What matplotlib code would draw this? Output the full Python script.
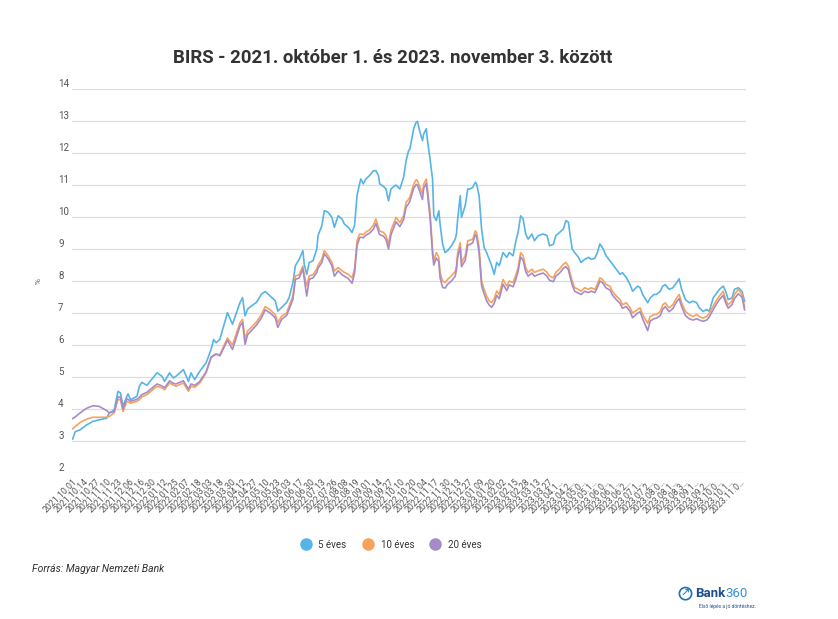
import matplotlib.pyplot as plt
from matplotlib.lines import Line2D

# trading-day positions (0 = 2021.10.01, last = 2023.11.03)
day_idx = [0, 2, 6, 11, 16, 21, 27, 29, 33, 36, 38, 40, 43, 44, 46, 51, 53, 55, 59, 67,
           71, 73, 77, 80, 82, 88, 92, 94, 97, 101, 106, 110, 112, 114, 117, 123, 127, 133, 135, 137,
           139, 142, 146, 150, 153, 157, 161, 163, 166, 170, 172, 175, 177, 180, 183, 184, 186, 188, 191, 194,
           195, 198, 200, 203, 206, 208, 211, 214, 216, 219, 222, 224, 226, 228, 229, 231, 233, 236, 239, 241,
           243, 244, 247, 249, 251, 253, 256, 257, 260, 263, 265, 267, 268, 271, 273, 274, 276, 278, 279, 281,
           282, 284, 286, 287, 289, 291, 292, 294, 296, 298, 301, 304, 305, 306, 308, 309, 312, 314, 316, 318,
           320, 321, 323, 325, 327, 329, 331, 333, 335, 337, 339, 342, 345, 347, 350, 352, 354, 356, 358, 360,
           362, 365, 367, 370, 374, 377, 379, 382, 384, 387, 390, 392, 394, 395, 397, 399, 402, 404, 407, 410,
           412, 415, 417, 419, 421, 424, 427, 429, 432, 435, 437, 440, 443, 445, 449, 451, 453, 457, 459, 462,
           464, 467, 469, 471, 474, 477, 480, 482, 484, 487, 490, 493, 496, 498, 501, 504, 506, 509, 512, 514,
           517, 519, 521, 524, 526, 529, 532, 534]

eves5 = [3.06, 3.29, 3.35, 3.50, 3.61, 3.66, 3.71, 3.87, 3.97, 4.55, 4.50, 4.08, 4.39, 4.47, 4.29, 4.39, 4.71, 4.83, 4.74, 5.13,
         5.02, 4.86, 5.13, 4.97, 5.02, 5.23, 4.86, 5.13, 4.92, 5.18, 5.44, 5.86, 6.17, 6.07, 6.18, 7.01, 6.65, 7.33, 7.48, 6.91,
         7.12, 7.22, 7.33, 7.59, 7.67, 7.53, 7.38, 7.06, 7.17, 7.33, 7.48, 7.95, 8.48, 8.68, 8.95, 8.53, 8.21, 8.58, 8.63, 9.00,
         9.42, 9.73, 10.20, 10.15, 9.99, 9.68, 10.04, 9.94, 9.78, 9.68, 9.52, 9.73, 10.67, 11.04, 11.19, 11.04, 11.19, 11.30, 11.45, 11.45,
         11.30, 11.04, 10.96, 10.88, 10.51, 10.88, 10.98, 11.00, 10.88, 11.24, 11.77, 12.08, 12.13, 12.76, 12.97, 12.99, 12.66, 12.39, 12.60, 12.76,
         12.39, 11.82, 11.19, 10.04, 9.89, 10.20, 9.78, 9.15, 8.89, 8.95, 9.10, 9.31, 9.47, 9.94, 10.67, 9.99, 10.36, 10.88, 10.88, 10.93,
         11.09, 11.04, 10.67, 9.62, 9.05, 8.89, 8.68, 8.48, 8.21, 8.58, 8.48, 8.89, 8.74, 8.89, 8.79, 9.21, 9.52, 10.04, 9.94, 9.47,
         9.31, 9.47, 9.26, 9.42, 9.47, 9.42, 9.10, 9.15, 9.42, 9.52, 9.63, 9.89, 9.84, 9.53, 9.00, 8.89, 8.74, 8.58, 8.68, 8.74,
         8.68, 8.71, 8.89, 9.16, 9.05, 8.79, 8.63, 8.53, 8.37, 8.21, 8.26, 8.11, 7.89, 7.68, 7.84, 7.79, 7.58, 7.32, 7.47, 7.58,
         7.58, 7.68, 7.84, 7.89, 7.74, 7.79, 7.95, 8.07, 7.74, 7.42, 7.32, 7.37, 7.32, 7.16, 7.05, 7.11, 7.05, 7.47, 7.63, 7.74,
         7.84, 7.68, 7.42, 7.47, 7.74, 7.79, 7.68, 7.37]

eves10 = [3.38, 3.45, 3.58, 3.68, 3.74, 3.74, 3.74, 3.76, 3.88, 4.30, 4.28, 3.92, 4.24, 4.22, 4.18, 4.24, 4.29, 4.38, 4.45, 4.71,
          4.66, 4.60, 4.81, 4.75, 4.71, 4.81, 4.55, 4.71, 4.68, 4.81, 5.13, 5.60, 5.66, 5.71, 5.70, 6.22, 6.00, 6.70, 6.80, 6.18,
          6.44, 6.55, 6.72, 6.95, 7.20, 7.10, 6.95, 6.70, 6.90, 7.00, 7.22, 7.53, 8.16, 8.20, 8.47, 8.20, 7.85, 8.16, 8.20, 8.37,
          8.50, 8.68, 8.95, 8.79, 8.58, 8.32, 8.42, 8.32, 8.27, 8.21, 8.10, 8.37, 9.26, 9.47, 9.47, 9.45, 9.53, 9.60, 9.75, 9.94,
          9.68, 9.57, 9.52, 9.42, 9.15, 9.60, 9.88, 9.99, 9.83, 10.04, 10.46, 10.56, 10.62, 11.03, 11.17, 11.14, 10.93, 10.72, 11.03, 11.19,
          10.88, 10.15, 9.00, 8.63, 8.89, 8.74, 8.27, 8.00, 7.95, 8.05, 8.16, 8.30, 8.47, 8.89, 9.20, 8.58, 8.79, 9.26, 9.28, 9.31,
          9.57, 9.52, 9.05, 8.00, 7.74, 7.53, 7.38, 7.33, 7.45, 7.69, 7.58, 8.05, 7.84, 8.00, 7.95, 8.16, 8.42, 8.89, 8.79, 8.42,
          8.27, 8.37, 8.27, 8.32, 8.37, 8.27, 8.16, 8.10, 8.27, 8.38, 8.53, 8.58, 8.47, 8.30, 8.00, 7.79, 7.74, 7.68, 7.79, 7.74,
          7.79, 7.74, 7.90, 8.10, 8.05, 7.89, 7.84, 7.68, 7.53, 7.42, 7.26, 7.32, 7.16, 7.00, 7.11, 7.16, 6.95, 6.68, 6.89, 6.95,
          6.95, 7.05, 7.26, 7.32, 7.16, 7.26, 7.47, 7.58, 7.32, 7.05, 6.95, 6.89, 6.95, 6.89, 6.84, 6.89, 7.00, 7.21, 7.42, 7.53,
          7.68, 7.42, 7.26, 7.37, 7.58, 7.74, 7.58, 7.20]

eves20 = [3.70, 3.75, 3.88, 4.02, 4.10, 4.08, 3.95, 3.88, 3.92, 4.38, 4.36, 4.00, 4.32, 4.30, 4.24, 4.30, 4.36, 4.45, 4.52, 4.78,
          4.72, 4.66, 4.88, 4.80, 4.78, 4.88, 4.62, 4.78, 4.74, 4.86, 5.16, 5.62, 5.68, 5.72, 5.66, 6.15, 5.86, 6.60, 6.70, 6.02,
          6.32, 6.45, 6.62, 6.85, 7.10, 7.00, 6.85, 6.55, 6.80, 6.92, 7.12, 7.42, 8.05, 8.10, 8.38, 8.08, 7.53, 8.05, 8.10, 8.27,
          8.40, 8.58, 8.85, 8.70, 8.48, 8.15, 8.32, 8.20, 8.15, 8.08, 7.93, 8.25, 9.10, 9.35, 9.37, 9.35, 9.43, 9.50, 9.62, 9.80,
          9.55, 9.45, 9.40, 9.30, 9.00, 9.45, 9.75, 9.85, 9.70, 9.92, 10.32, 10.42, 10.50, 10.90, 11.02, 11.00, 10.78, 10.55, 10.90, 11.05,
          10.72, 10.00, 8.85, 8.50, 8.72, 8.60, 8.10, 7.80, 7.78, 7.90, 8.00, 8.15, 8.35, 8.75, 9.05, 8.45, 8.65, 9.12, 9.15, 9.20,
          9.45, 9.40, 8.90, 7.85, 7.60, 7.38, 7.25, 7.18, 7.30, 7.55, 7.45, 7.90, 7.70, 7.88, 7.82, 8.03, 8.30, 8.75, 8.65, 8.30,
          8.15, 8.25, 8.15, 8.20, 8.25, 8.15, 8.02, 7.98, 8.15, 8.25, 8.40, 8.45, 8.35, 8.18, 7.88, 7.68, 7.62, 7.58, 7.68, 7.64,
          7.68, 7.64, 7.80, 8.00, 7.95, 7.78, 7.72, 7.56, 7.42, 7.30, 7.15, 7.20, 7.05, 6.85, 7.00, 7.04, 6.82, 6.45, 6.75, 6.82,
          6.84, 6.92, 7.12, 7.20, 7.04, 7.14, 7.35, 7.45, 7.20, 6.92, 6.82, 6.78, 6.82, 6.78, 6.74, 6.78, 6.88, 7.10, 7.30, 7.42,
          7.55, 7.32, 7.15, 7.26, 7.45, 7.60, 7.50, 7.10]

tick_labels = [
    '2021.10.01', '2021.10.14', '2021.10.27', '2021.11.10', '2021.11.23', '2021.12.06', '2021.12.16', '2021.12.30',
    '2022.01.12', '2022.01.25', '2022.02.07', '2022.02.18', '2022.03.03', '2022.03.18', '2022.03.30', '2022.04.12',
    '2022.04.27', '2022.05.10', '2022.05.23', '2022.06.03', '2022.06.17', '2022.06.30', '2022.07.13', '2022.07.26',
    '2022.08.08', '2022.08.19', '2022.09.01', '2022.09.14', '2022.09.27', '2022.10.10', '2022.10.20', '2022.11.04',
    '2022.11.17', '2022.11.30', '2022.12.13', '2022.12.27', '2023.01.09', '2023.01.20', '2023.02.02', '2023.02.15',
    '2023.02.28', '2023.03.13', '2023.03.27', '2023.04.1…', '2023.04.2…', '2023.05.0…', '2023.05.1…', '2023.06.0…',
    '2023.06.1…', '2023.06.2…', '2023.07.1…', '2023.07.2…', '2023.08.0…', '2023.08.1…', '2023.08.3…', '2023.09.1…',
    '2023.09.2…', '2023.10.0…', '2023.10.1…', '2023.11.0…']
tick_pos = [i * 9 for i in range(len(tick_labels))]

series_names = ['5 éves', '10 éves', '20 éves']
colors = ['#56B4E6', '#F7A35C', '#A78BC8']

plt.rcParams['font.family'] = ['Roboto', 'DejaVu Sans']

fig = plt.figure(figsize=(8.38, 6.19), dpi=100)
ax = fig.add_axes([0.086, 0.236, 0.804, 0.620])

for vals, c in zip([eves5, eves10, eves20], colors):
    ax.plot(day_idx, vals, color=c, lw=1.2, solid_joinstyle='round')

ax.set_ylim(2, 14)
ax.set_xlim(-0.5, 535)
ax.set_yticks(range(2, 15))
ax.grid(axis='y', color='#dddddd', lw=0.9)
ax.set_axisbelow(True)
for s in ax.spines.values():
    s.set_visible(False)

ax.set_xticks(tick_pos)
ax.set_xticklabels(tick_labels, rotation=45, ha='right', rotation_mode='anchor',
                   fontsize=6.3, color='#555555')
ax.tick_params(axis='x', length=0, pad=3)
ax.tick_params(axis='y', length=0, pad=10, labelsize=7, labelcolor='#555555')
for lab in ax.get_yticklabels():
    lab.set_horizontalalignment('left')
    lab.set_verticalalignment('bottom')
ax.set_ylabel('%', fontsize=6, color='#555555', labelpad=12)

fig.text(0.469, 0.907, 'BIRS - 2021. október 1. és 2023. november 3. között',
         ha='center', va='center', fontsize=13.4, fontweight='bold', color='#333333')

handles = [Line2D([], [], ls='none', marker='o', markersize=8, color=c) for c in colors]
fig.legend(handles, series_names, loc='center', bbox_to_anchor=(0.464, 0.12), ncol=3,
           frameon=False, fontsize=7, handletextpad=0.3, columnspacing=1.2,
           labelcolor='#333333')

fig.text(0.038, 0.081, 'Forrás: Magyar Nemzeti Bank', fontsize=7.5, style='italic',
         color='#333333', va='center')

# Bank360 logo
fig.text(0.818, 0.041, '\u2197', fontsize=8, color='#1c6fb8', ha='center', va='center',
         bbox=dict(boxstyle='circle,pad=0.1', fc='white', ec='#1c6fb8', lw=1.2))
fig.text(0.830, 0.041, 'Bank', fontsize=9.5, fontweight='bold', color='#1f4f8f', va='center')
fig.text(0.866, 0.041, '360', fontsize=9.5, color='#3a8fd6', va='center')
fig.text(0.834, 0.020, 'Első lépés a jó döntéshez.', fontsize=3.5, color='#1f4f8f', va='center')

fig.savefig('out.png', dpi=100, facecolor='white')
